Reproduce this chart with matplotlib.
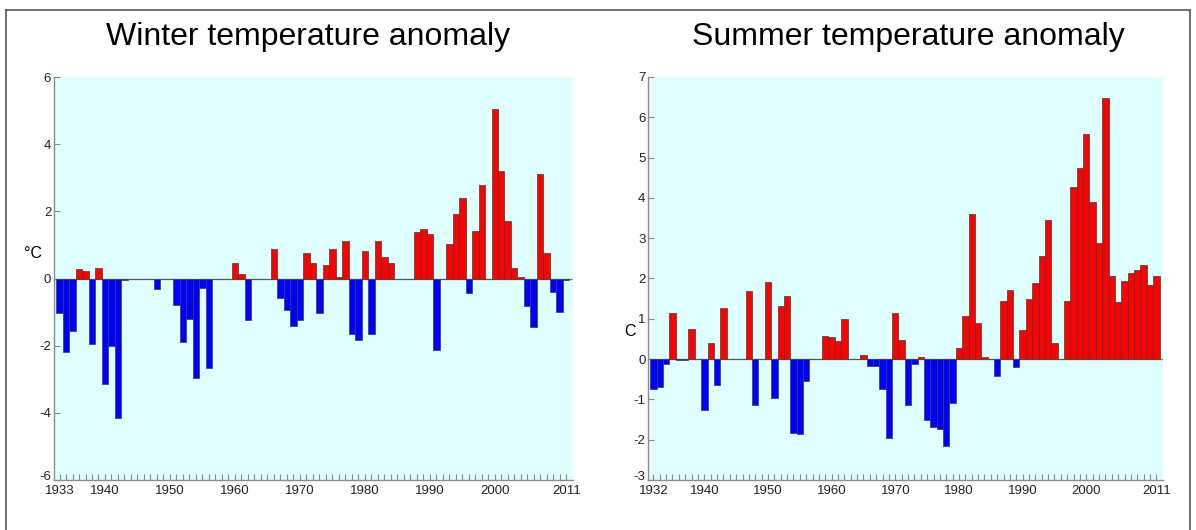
import matplotlib
matplotlib.use("Agg")
import matplotlib.pyplot as plt
import matplotlib.transforms as mtrans
from matplotlib.lines import Line2D
from matplotlib.ticker import FixedLocator

plt.rcParams['font.family'] = ['Liberation Sans', 'DejaVu Sans']
plt.rcParams['axes.unicode_minus'] = False

# winter anomaly, 1933-2011 (degC)
winter_years = list(range(1933, 2012))
winter_vals = [
    -1.02, -2.19, -1.55, 0.29, 0.21, -1.95, 0.30, -3.15, -2.01, -4.15,   # 1933-1942
    -0.04, 0, 0, 0, 0, -0.32, 0, 0, -0.78, -1.89,                         # 1943-1952
    -1.22, -2.95, -0.29, -2.67, 0, 0, 0, 0.46, 0.13, -1.24,               # 1953-1962
    0, 0, 0, 0.89, -0.58, -0.95, -1.42, -1.23, 0.75, 0.45,                # 1963-1972
    -1.02, 0.40, 0.87, 0.03, 1.11, -1.64, -1.82, 0.81, -1.64, 1.11,       # 1973-1982
    0.65, 0.45, 0, 0, -0.01, 1.38, 1.47, 1.32, -2.12, 0,                  # 1983-1992
    1.03, 1.91, 2.41, -0.42, 1.42, 2.78, 0, 5.04, 3.20, 1.72,             # 1993-2002
    0.31, 0.04, -0.83, -1.43, 3.10, 0.76, -0.39, -1.01, -0.05,            # 2003-2011
]
winter_ticks = [1933, 1940, 1950, 1960, 1970, 1980, 1990, 2000, 2011]
winter_yticks = [-6, -4, -2, 0, 2, 4, 6]

# summer anomaly, 1932-2011 (degC)
summer_years = list(range(1932, 2012))
summer_vals = [
    -0.75, -0.70, -0.12, 1.14, -0.02, -0.02, 0.75, 0, -1.27, 0.39,        # 1932-1941
    -0.64, 1.28, 0, 0, 0, 1.68, -1.14, 0, 1.91, -0.97,                    # 1942-1951
    1.32, 1.56, -1.84, -1.86, -0.54, 0, 0, 0.58, 0.56, 0.46,              # 1952-1961
    0.99, 0, 0, 0.10, -0.18, -0.17, -0.74, -1.95, 1.15, 0.48,             # 1962-1971
    -1.14, -0.13, 0.05, -1.52, -1.69, -1.74, -2.15, -1.08, 0.28, 1.07,    # 1972-1981
    3.61, 0.90, 0.06, 0, -0.42, 1.44, 1.72, -0.19, 0.71, 1.50,            # 1982-1991
    1.89, 2.57, 3.45, 0.41, 0, 1.44, 4.28, 4.75, 5.59, 3.89,              # 1992-2001
    2.87, 6.47, 2.06, 1.42, 1.93, 2.13, 2.22, 2.34, 1.83, 2.05,           # 2002-2011
]
summer_ticks = [1932, 1940, 1950, 1960, 1970, 1980, 1990, 2000, 2011]
summer_yticks = [-3, -2, -1, 0, 1, 2, 3, 4, 5, 6, 7]

axis_grey = '#8c8c8c'


def draw(fig, ax, years, vals, xlim, ylim, xticks, yticks):
    colors = ['#ff0000' if v > 0 else '#0000ff' for v in vals]
    ax.set_facecolor('#e0ffff')
    ax.axhline(0, color=axis_grey, lw=1.0, zorder=1)
    ax.bar(years, vals, width=1.0, color=colors, edgecolor='#3c3c3c',
           linewidth=0.5, zorder=2)
    ax.set_xlim(*xlim)
    ax.set_ylim(*ylim)
    ax.set_xticks(xticks)
    ax.set_yticks(yticks)
    ax.xaxis.set_minor_locator(FixedLocator(years))
    for s in ['top', 'right']:
        ax.spines[s].set_visible(False)
    for s in ['left', 'bottom']:
        ax.spines[s].set_color(axis_grey)
        ax.spines[s].set_linewidth(1.0)
    ax.tick_params(which='both', direction='in', length=4, width=0.8,
                   color=axis_grey, labelcolor='#222222', labelsize=9.5)
    ax.tick_params(axis='x', pad=3.5)
    ax.tick_params(axis='y', pad=2)
    # lift the bottom y label a little so it clears the first year label
    lab = ax.get_yticklabels()[0]
    lab.set_transform(lab.get_transform() +
                      mtrans.ScaledTranslation(0, 4 / 100, fig.dpi_scale_trans))


fig = plt.figure(figsize=(11.96, 5.30), dpi=100)

ax1 = fig.add_axes([54 / 1196, 50 / 530, 518.7 / 1196, 403 / 530])
draw(fig, ax1, winter_years, winter_vals, (1932.15, 2012.0), (-6, 6),
     winter_ticks, winter_yticks)

ax2 = fig.add_axes([648.3 / 1196, 50 / 530, 514.4 / 1196, 403 / 530])
draw(fig, ax2, summer_years, summer_vals, (1931.2, 2012.0), (-3, 7),
     summer_ticks, summer_yticks)

# titles and unit labels
fig.text(308 / 1196, 1 - 37 / 530, 'Winter temperature anomaly',
         ha='center', va='center', fontsize=23)
fig.text(908 / 1196, 1 - 37 / 530, 'Summer temperature anomaly',
         ha='center', va='center', fontsize=23)
fig.text(33 / 1196, 1 - 254 / 530, '°C', ha='center', va='center', fontsize=11.5)
fig.text(630 / 1196, 1 - 331 / 530, 'C', ha='center', va='center', fontsize=11.5)

# outer frame (open at the bottom)
fx0, fx1, fy = 6 / 1196, 1190 / 1196, 1 - 10 / 530
fig.add_artist(Line2D([fx0, fx1], [fy, fy], transform=fig.transFigure,
                      color='#555555', lw=1.2))
fig.add_artist(Line2D([fx0, fx0], [0, fy], transform=fig.transFigure,
                      color='#555555', lw=1.2))
fig.add_artist(Line2D([fx1, fx1], [0, fy], transform=fig.transFigure,
                      color='#555555', lw=1.2))

fig.savefig('out.png', dpi=100)
